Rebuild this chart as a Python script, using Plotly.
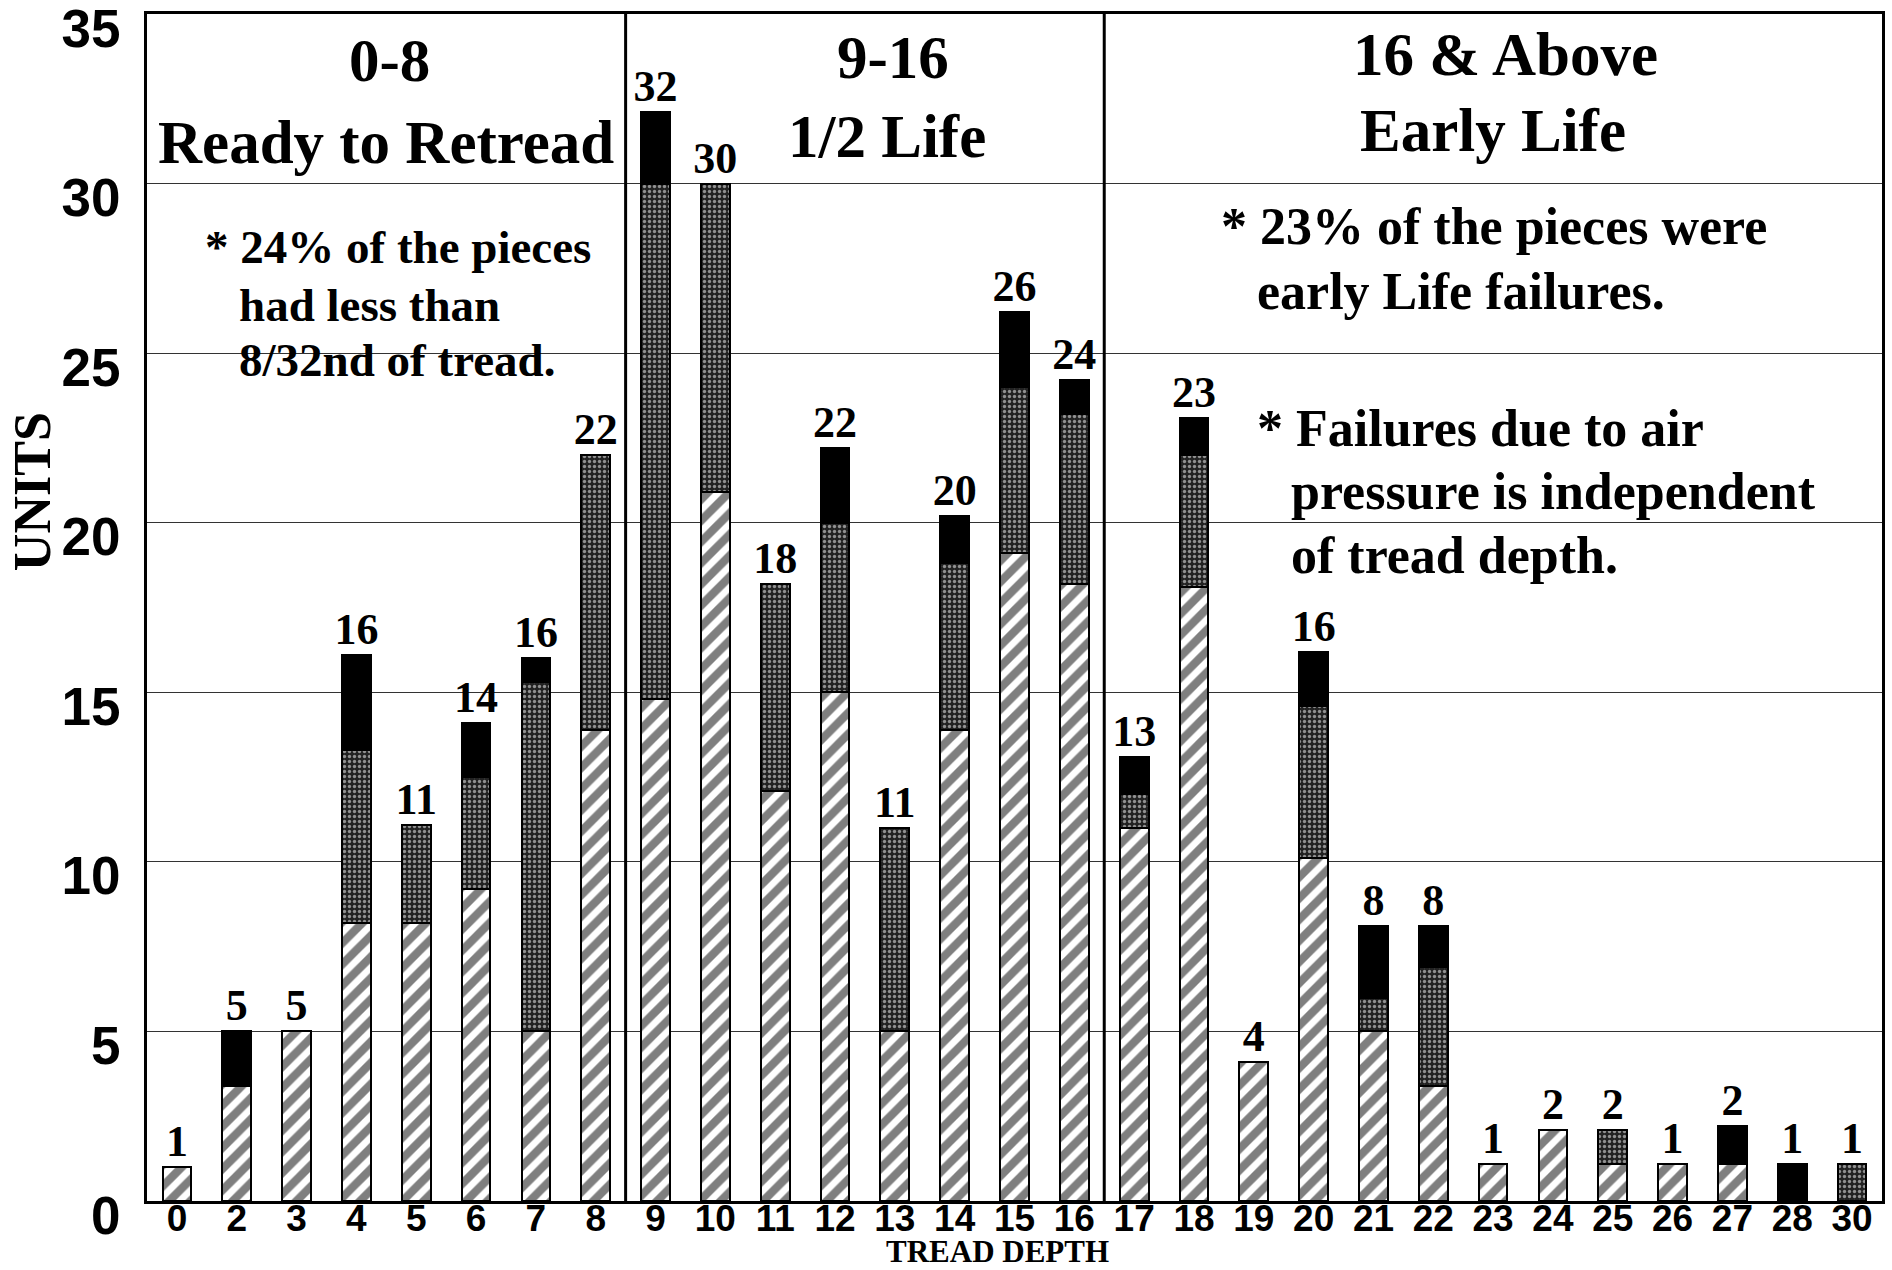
import plotly.graph_objects as go

# ---------------- data ----------------
depths = ["0", "2", "3", "4", "5", "6", "7", "8", "9", "10", "11", "12", "13", "14",
          "15", "16", "17", "18", "19", "20", "21", "22", "23", "24", "25", "26",
          "27", "28", "30"]
hatched = [1, 3.4, 5, 8.2, 8.2, 9.2, 5, 13.9, 14.8, 20.9, 12.1, 15, 5, 13.9,
           19.1, 18.2, 11, 18.1, 4.1, 10.1, 5, 3.4, 1.1, 2.1, 1.1, 1.1, 1.1, 0, 0]
dotted = [0, 0, 0, 5.1, 2.9, 3.3, 10.3, 8.1, 15.2, 9.1, 6.1, 5, 6, 4.9,
          4.9, 5, 1, 3.9, 0, 4.5, 1, 3.5, 0, 0, 1, 0, 0, 0, 1.1]
solid = [0, 1.6, 0, 2.8, 0, 1.6, 0.7, 0, 2.1, 0, 0, 2.2, 0, 1.4,
         2.2, 1, 1.1, 1.1, 0, 1.6, 2.1, 1.2, 0, 0, 0, 0, 1.1, 1.1, 0]
totals = [1, 5, 5, 16, 11, 14, 16, 22, 32, 30, 18, 22, 11, 20, 26, 24, 13, 23,
          4, 16, 8, 8, 1, 2, 2, 1, 2, 1, 1]
y_ticks = [0, 5, 10, 15, 20, 25, 30, 35]
group_last = ["8", "16"]          # section dividers follow these depths
headers = [("0-8", "Ready to Retread"), ("9-16", "1/2 Life"),
           ("16 & Above", "Early Life")]
note_a = ["* 24% of the pieces", "had less than", "8/32nd of tread."]
note_b = ["* 23% of the pieces were", "early Life failures."]
note_c = ["* Failures due to air", "pressure is independent", "of tread depth."]

SERIF = "Liberation Serif"
SANS = "Liberation Sans"

fig = go.Figure()
line_style = dict(color="black", width=2)
fig.add_bar(x=depths, y=hatched, name="hatched",
            marker=dict(color="white", line=line_style,
                        pattern=dict(shape="/", fgcolor="black", bgcolor="white",
                                     size=15, solidity=0.55)))
fig.add_bar(x=depths, y=dotted, name="dotted",
            marker=dict(color="#222", line=line_style,
                        pattern=dict(shape=".", fgcolor="white", bgcolor="#222",
                                     size=5, solidity=0.35)))
fig.add_bar(x=depths, y=solid, name="solid",
            marker=dict(color="black", line=line_style))

tops = [h + d + s for h, d, s in zip(hatched, dotted, solid)]
fig.add_scatter(x=depths, y=tops, mode="text", text=[str(t) for t in totals],
                textposition="top center",
                textfont=dict(family=SERIF, size=44, color="black", weight="bold"),
                showlegend=False, hoverinfo="skip", cliponaxis=False)

shapes = []
for g in group_last:
    xi = depths.index(g) + 0.5
    shapes.append(dict(type="line", xref="x", yref="paper", x0=xi, x1=xi, y0=0, y1=1,
                       line=dict(color="black", width=3), layer="above"))
# white text boxes that mask gridlines behind notes
shapes.append(dict(type="rect", xref="paper", yref="paper", x0=0.020, x1=0.268,
                   y0=0.68, y1=0.83, fillcolor="white", line=dict(width=0),
                   layer="between"))
shapes.append(dict(type="rect", xref="paper", yref="paper", x0=0.6225, x1=0.995,
                   y0=0.50, y1=0.70, fillcolor="white", line=dict(width=0),
                   layer="between"))

ann = []
hdr_pos = [((0.1395, 0.961), (0.1378, 0.892)),
           ((0.430, 0.963), (0.4265, 0.897)),
           ((0.783, 0.966), (0.776, 0.902))]
for (t1, t2), (p1, p2) in zip(headers, hdr_pos):
    for t, p in ((t1, p1), (t2, p2)):
        ann.append(dict(text=t, xref="paper", yref="paper", x=p[0], y=p[1],
                        xanchor="center", yanchor="middle", showarrow=False,
                        font=dict(family=SERIF, size=61, color="black", weight="bold")))

def add_note(lines, xs, ys, size):
    for t, x, y in zip(lines, xs, ys):
        ann.append(dict(text=t, xref="paper", yref="paper", x=x, y=y,
                        xanchor="left", yanchor="middle", showarrow=False,
                        font=dict(family=SERIF, size=size, color="black", weight="bold")))

add_note(note_a, [0.0323, 0.0519, 0.0519], [0.8037, 0.7548, 0.7085], 47)
add_note(note_b, [0.6179, 0.6386], [0.8206, 0.7658], 52)
add_note(note_c, [0.6386, 0.6582, 0.6582], [0.6512, 0.5981, 0.5442], 52)

ann.append(dict(text="TREAD DEPTH", xref="paper", yref="paper", x=0.49, y=-0.0581,
                xanchor="center", yanchor="bottom", showarrow=False, borderpad=0,
                font=dict(family=SERIF, size=31, color="black", weight="bold")))
ann.append(dict(text="UNITS", xref="paper", yref="paper", x=-0.0663, y=0.598,
                xanchor="center", yanchor="middle", showarrow=False, textangle=-90,
                font=dict(family=SERIF, size=52, color="black", weight="bold")))

fig.update_layout(
    width=1892, height=1270,
    margin=dict(l=147, r=10, t=14, b=69, autoexpand=False),
    barmode="stack", bargap=0.52,
    plot_bgcolor="white", paper_bgcolor="white",
    showlegend=False,
    shapes=shapes, annotations=ann,
    xaxis=dict(type="category", categoryorder="array", categoryarray=depths,
               range=[-0.5, len(depths) - 0.5], automargin=False,
               showline=True, linecolor="black", linewidth=2.5, mirror=True,
               showgrid=False, ticks="",
               tickfont=dict(family=SANS, size=37, color="black", weight="bold"),
               ticklabelstandoff=-17),
    yaxis=dict(range=[0, 35], tickvals=y_ticks, automargin=False,
               showline=True, linecolor="black", linewidth=3, mirror=True,
               showgrid=True, gridcolor="#333", gridwidth=1.3, zeroline=False,
               ticks="", ticklabeloverflow="allow",
               tickfont=dict(family=SANS, size=53, color="black", weight="bold"),
               ticklabelstandoff=13, ticklabelshift=14),
)

fig.write_html("out.html", config={"displayModeBar": False},
               post_script="document.body.style.margin='0';"
                           "document.body.style.overflow='hidden';")
